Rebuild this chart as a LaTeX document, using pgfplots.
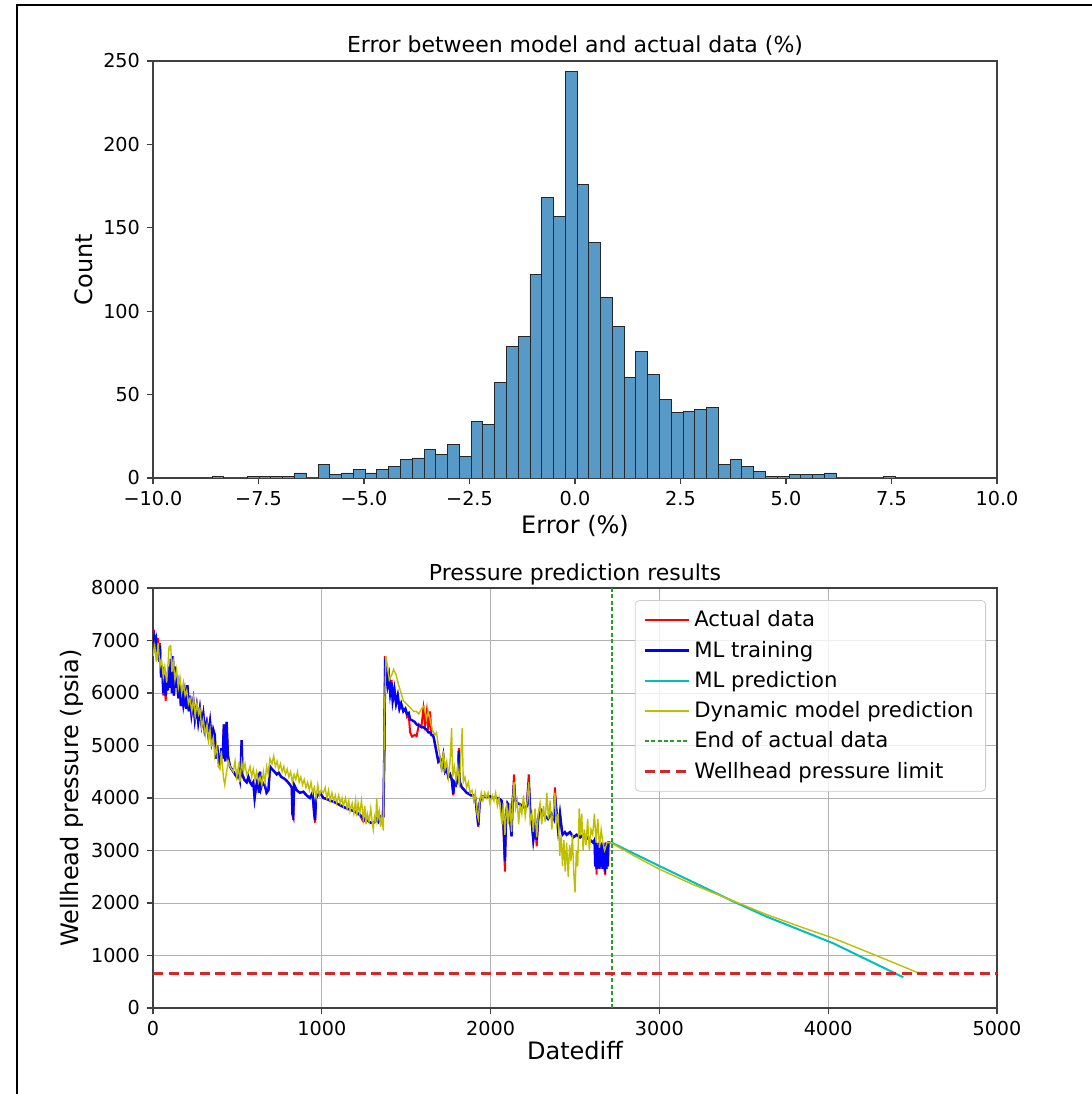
\documentclass[border=0pt]{standalone}
\usepackage{fontspec}
\setmainfont{DejaVu Sans}
\usepackage{pgfplots}
\usepackage{pgfplotstable}
\pgfplotsset{compat=1.18}
\definecolor{histblue}{RGB}{87,153,199}
\definecolor{mlcyan}{RGB}{0,191,191}
\definecolor{dynyellow}{RGB}{191,191,0}
\definecolor{endgreen}{RGB}{40,160,40}
\definecolor{limred}{RGB}{214,39,40}

\pgfplotstableread{
x c
-8.600 1
-8.321 0
-8.042 0
-7.763 1
-7.484 1
-7.205 1
-6.926 1
-6.647 3
-6.368 0
-6.089 8
-5.810 2
-5.531 3
-5.252 5
-4.973 3
-4.694 5
-4.415 7
-4.136 11
-3.857 12
-3.578 17
-3.299 14
-3.020 20
-2.741 13
-2.462 34
-2.183 32
-1.904 57
-1.625 79
-1.346 85
-1.067 122
-0.788 168
-0.509 157
-0.230 244
0.049 176
0.328 141
0.607 108
0.886 91
1.165 60
1.444 76
1.723 62
2.002 47
2.281 39
2.560 40
2.839 41
3.118 42
3.397 8
3.676 11
3.955 7
4.234 4
4.513 1
4.792 1
5.071 2
5.350 2
5.629 2
5.908 3
6.187 0
6.466 0
6.745 0
7.024 0
7.303 1
7.582 1
}\histdata

\pgfplotstableread{
x act ml
2 6950 6950
6 7200 7050
12 6900 6900
18 7100 7000
24 6750 6750
30 7050 6950
36 6600 6600
41 6950 6900
48 6300 6300
55 6500 6500
61 5950 6000
68 6350 6350
75 5850 5950
81 6200 6200
88 6050 6050
95 6500 6500
100 6100 6100
106 6650 6650
112 6000 6000
118 6700 6700
124 5950 5950
130 6500 6500
136 6100 6100
142 6350 6350
150 5900 5900
158 6200 6200
165 5750 5750
172 6100 6100
180 5800 5800
188 6000 6000
196 5700 5700
204 6150 6150
212 5650 5650
219 5950 5950
228 5600 5600
239 5850 5850
248 5500 5500
259 5750 5750
268 5450 5450
278 5700 5700
288 5400 5400
298 5600 5600
306 5300 5300
318 5450 5450
328 5200 5200
338 5450 5450
348 5100 5100
357 5300 5300
366 5200 5200
372 4750 4750
380 5000 5000
388 4700 4700
397 4650 4650
405 4950 4950
412 4750 4750
420 5400 5400
428 4700 4700
436 5450 5450
444 4800 4800
456 4600 4600
466 4550 4550
476 4500 4500
486 4450 4450
496 4400 4400
506 4500 4500
515 4350 4350
520 4600 4600
525 5100 5100
530 4450 4450
540 4350 4350
555 4300 4300
565 4400 4400
575 4300 4300
585 4250 4250
594 4300 4300
602 4000 4000
610 4200 4200
620 4350 4350
628 4100 4100
634 4500 4500
640 4200 4200
648 4300 4300
654 4250 4250
662 4250 4250
673 4100 4100
684 4150 4150
693 4600 4600
705 4550 4550
720 4500 4500
733 4450 4450
745 4480 4480
760 4400 4400
772 4380 4380
785 4350 4350
800 4300 4300
812 4250 4250
822 4200 4200
826 3700 3700
831 3580 3650
836 4250 4250
851 4150 4150
870 4100 4100
891 4120 4120
910 4050 4050
930 4000 4000
945 4100 4100
955 3700 3700
960 3530 3580
966 4000 4000
975 4050 4050
990 4100 4100
1009 4000 4000
1030 3980 3980
1049 3950 3950
1070 3930 3930
1088 3900 3900
1110 3860 3860
1128 3830 3830
1150 3800 3800
1167 3780 3780
1190 3750 3750
1207 3720 3720
1225 3680 3680
1246 3550 3620
1262 3580 3580
1275 3560 3560
1290 3530 3530
1305 3520 3520
1318 3560 3560
1325 3600 3600
1335 3550 3550
1345 3640 3640
1355 3580 3580
1365 3640 3650
1370 4800 4800
1375 6700 6500
1382 6450 6400
1390 6200 6150
1398 6350 6300
1405 6050 6000
1413 6250 6200
1420 5900 5850
1430 6100 6050
1440 5800 5800
1450 5950 5950
1460 5700 5700
1470 5800 5800
1483 5650 5650
1495 5700 5700
1505 5550 5600
1515 5600 5620
1523 5250 5500
1535 5170 5480
1550 5200 5450
1562 5180 5400
1575 5400 5380
1590 5350 5350
1602 5700 5350
1612 5400 5320
1622 5650 5300
1631 5300 5250
1641 5650 5250
1650 5200 5200
1661 5200 5180
1672 5000 5000
1681 4850 4850
1690 4700 4700
1700 4750 4750
1710 4600 4600
1720 4800 4800
1730 4500 4500
1740 4550 4550
1750 4400 4400
1760 4450 4450
1770 4350 4350
1779 4050 4080
1785 4300 4300
1795 4250 4250
1805 4350 4350
1812 4950 4900
1818 4300 4300
1830 4200 4200
1845 4150 4150
1858 4100 4100
1870 4080 4080
1885 4050 4050
1897 4050 4050
1910 4000 4000
1920 3700 3700
1927 3450 3480
1935 3900 3900
1945 4030 4030
1960 4030 4030
1980 4020 4020
1996 4030 4030
2010 4000 4000
2030 4010 4010
2050 3990 3990
2065 3950 3950
2075 3600 3600
2085 2600 2800
2092 3700 3700
2100 3900 3900
2110 3850 3850
2118 3500 3500
2124 3270 3270
2130 3900 3900
2139 4450 4250
2146 3950 3950
2160 3900 3900
2174 3880 3880
2190 3850 3850
2205 3800 3800
2215 3850 3850
2226 4450 4300
2234 3800 3800
2245 3500 3500
2253 3200 3200
2265 3500 3500
2273 3080 3200
2282 3600 3600
2293 3800 3800
2310 3700 3700
2325 3650 3650
2340 3600 3600
2360 3700 3700
2375 3600 3600
2381 4200 4050
2390 3750 3750
2400 3400 3400
2411 3700 3700
2425 3300 3300
2440 3350 3350
2450 3300 3300
2470 3350 3350
2490 3250 3250
2510 3300 3300
2530 3250 3250
2550 3300 3300
2569 3250 3250
2590 3200 3200
2608 3150 3150
2616 3200 3200
2620 2700 2700
2624 3150 3150
2628 2540 2650
2632 3100 3100
2636 2700 2700
2641 3150 3150
2645 2650 2650
2650 3100 3100
2655 2700 2700
2660 3150 3150
2664 2650 2650
2668 3100 3100
2673 2700 2700
2678 2540 2650
2682 3150 3150
2686 2650 2650
2690 3100 3100
2694 2700 2700
2698 3150 3150
2710 3150 3150
}\actualdata

\pgfplotstableread{
x y
0 6700
10 6900
20 6600
30 6950
41 6500
50 6650
61 6300
70 6500
81 6200
90 6600
95 6880
105 6900
112 6400
120 6600
130 6250
140 6450
150 6100
160 6300
170 6000
180 6200
190 5950
200 6050
210 5800
219 5900
230 5650
240 5900
250 5550
260 5800
270 5600
278 5700
288 5350
298 5500
310 5200
320 5400
330 5100
338 5300
345 5000
357 5150
366 4800
377 5000
386 4600
397 4550
405 4900
417 4400
425 4250
436 4500
446 4700
456 4600
466 4550
476 4500
486 4700
496 4400
506 4600
515 4300
525 4700
535 4500
545 4650
555 4450
565 4500
575 4600
585 4400
594 4550
605 4350
614 4500
625 4300
634 4400
645 4250
654 4500
664 4300
673 4600
683 4450
693 4750
705 4650
715 4800
725 4600
735 4700
745 4550
755 4650
765 4500
775 4600
785 4450
795 4550
805 4400
815 4500
826 4300
836 4450
846 4350
856 4500
866 4300
876 4400
886 4250
896 4350
906 4200
916 4300
926 4150
936 4300
946 4100
956 4200
966 4000
976 4250
986 4050
996 4150
1009 4100
1020 4200
1030 4000
1040 4150
1049 3950
1060 4100
1070 3950
1080 4050
1088 3900
1100 4050
1110 3900
1120 4000
1128 3850
1140 4000
1150 3800
1160 3950
1167 3750
1180 3900
1190 3700
1200 3950
1207 3650
1215 3900
1225 3700
1235 3950
1246 3600
1255 3850
1262 3500
1270 3700
1280 3550
1290 3800
1300 3500
1305 3400
1312 3650
1320 3550
1325 4000
1332 3600
1340 3750
1348 3450
1355 3650
1360 3500
1365 3380
1370 5400
1380 6700
1390 6500
1400 6250
1415 6350
1425 6450
1440 6350
1455 6150
1470 6000
1483 5850
1500 5800
1515 5750
1530 5700
1545 5650
1560 5650
1575 5600
1590 5700
1605 5750
1620 5500
1630 5650
1641 5500
1655 5300
1670 5200
1680 5250
1690 5000
1700 4800
1710 4500
1720 4900
1730 4550
1740 4700
1750 4400
1760 4700
1769 5330
1775 4400
1785 4600
1795 4350
1805 4600
1815 4200
1822 4700
1832 5330
1838 4300
1848 4400
1858 4200
1868 4300
1878 4100
1890 4150
1900 3950
1910 4100
1920 3700
1927 3600
1935 3900
1945 4100
1955 3950
1965 4100
1975 4000
1985 4100
1996 3900
2010 4050
2020 3950
2030 4100
2040 3850
2050 4000
2060 3700
2068 3500
2075 3900
2085 3300
2095 3900
2105 3500
2115 3900
2124 3350
2132 4000
2139 4300
2148 3800
2158 3950
2166 3500
2175 3850
2185 3700
2195 4050
2205 3650
2215 3900
2226 4300
2234 3550
2245 3700
2253 3350
2263 3800
2273 3250
2283 3700
2293 3900
2303 3500
2313 3850
2323 3550
2333 4100
2343 3600
2353 3950
2363 3400
2373 3800
2381 4100
2390 3500
2400 3700
2410 2900
2418 3300
2426 2700
2434 3200
2442 2600
2450 3150
2460 2500
2468 3100
2476 2800
2485 3300
2492 2600
2500 2200
2508 3000
2516 2700
2525 3800
2532 3300
2540 3700
2548 3000
2556 3400
2565 3100
2575 3600
2585 3000
2595 3400
2605 3300
2615 3700
2625 3150
2635 3600
2645 3050
2655 3400
2665 3150
2675 3000
2690 3150
2717 3140
2850 2900
3003 2640
3200 2350
3438 2040
3635 1780
3850 1530
4030 1330
4300 980
4563 630
}\dyndata

\pgfplotstableread{
x y
2717 3150
3003 2700
3438 2030
3635 1740
4030 1232
4376 692
4445 584
}\mlpred

\begin{document}
\begin{tikzpicture}[x=1pt,y=1pt]
\useasboundingbox (0,0) rectangle (546,547);
\draw[line width=1.2pt] (8.5,0) -- (8.5,544.5) -- (546,544.5);

\pgfplotsset{
  mystyle/.style={
    scale only axis,
    width=422pt,
    tick align=outside,
    tick pos=left,
    major tick length=3pt,
    axis line style={black!75, line width=0.6pt},
    every tick/.style={black!75, line width=0.6pt},
    ticklabel style={font=\fontsize{9.6}{11}\selectfont},
    every axis title shift=0pt,
    title style={font=\fontsize{11}{13}\selectfont, at={(0.5,1)}, anchor=base, yshift=4pt},
    label style={font=\fontsize{12}{14}\selectfont},
    /pgf/number format/assume math mode=true,
    /pgf/number format/1000 sep={},
    scaled ticks=false,
  }
}

\begin{axis}[mystyle,
  at={(76.5pt,308pt)}, anchor=south west,
  height=208.5pt,
  xmin=-10, xmax=10, ymin=0, ymax=250,
  xtick={-10,-7.5,-5,-2.5,0,2.5,5,7.5,10},
  xticklabels={−10.0,−7.5,−5.0,−2.5,0.0,2.5,5.0,7.5,10.0},
  ytick={0,50,100,150,200,250},
  title={Error between model and actual data (\%)},
  xlabel={Error (\%)},
  ylabel={Count},
  xlabel style={yshift=2pt},
  ylabel shift=-1.5pt,
]
\addplot[ybar interval, fill=histblue, draw=black!85, line width=0.45pt] table[x=x, y=c] {\histdata};
\end{axis}

\begin{axis}[mystyle,
  at={(76.5pt,43pt)}, anchor=south west,
  height=210pt,
  xmin=0, xmax=5000, ymin=0, ymax=8000,
  xtick={0,1000,2000,3000,4000,5000},
  ytick={0,1000,2000,3000,4000,5000,6000,7000,8000},
  grid=major,
  grid style={black!30, line width=0.5pt},
  title={Pressure prediction results},
  xlabel={Datediff},
  ylabel={Wellhead pressure (psia)},
  xlabel style={yshift=4pt},
  ylabel shift=-3pt,
  legend style={at={(0.987,0.971)}, anchor=north east, draw=black!20,
    rounded corners=2pt, fill=white, fill opacity=0.8, text opacity=1,
    font=\fontsize{10.6}{12.5}\selectfont, row sep=1.6pt, inner xsep=4pt, inner ysep=3pt},
  legend cell align=left,
  legend image code/.code={\draw[#1] (0pt,0pt) -- (22pt,0pt);},
]
\addplot[red, line width=1pt] table[x=x, y=act] {\actualdata};
\addlegendentry{Actual data}
\addplot[blue, line width=1.2pt] table[x=x, y=ml] {\actualdata};
\addlegendentry{ML training}
\addplot[mlcyan, line width=1pt] table[x=x, y=y] {\mlpred};
\addlegendentry{ML prediction}
\addplot[dynyellow, line width=0.7pt] table[x=x, y=y] {\dyndata};
\addlegendentry{Dynamic model prediction}
\addplot[endgreen, line width=0.9pt, dash pattern=on 2pt off 1.2pt] coordinates {(2717,0) (2717,8000)};
\addlegendentry{End of actual data}
\addplot[limred, line width=1.5pt, dash pattern=on 5pt off 2.8pt] coordinates {(0,660) (5000,660)};
\addlegendentry{Wellhead pressure limit}
\end{axis}
\end{tikzpicture}
\end{document}
